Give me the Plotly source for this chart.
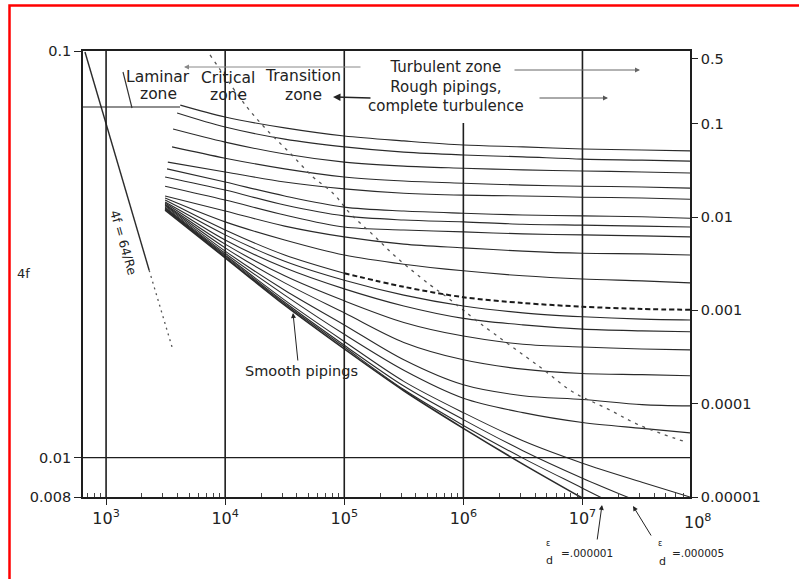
import math
import plotly.graph_objects as go

# ---------------- data ----------------
RE_GRID = [1e4, 3.16e4, 1e5, 3.16e5, 1e6, 3.16e6, 1e7, 3.16e7, 8e7]

ED_LABELS = ["0.05", "0.04", "0.03", "0.02", "0.015", "0.01", "0.008", "0.006",
             "0.004", "0.002", "0.001", "0.0008", "0.0006", "0.0004", "0.0002",
             "0.0001", "0.00005", "0.00001", "0.000005", "0.000001", "smooth"]
START_RE = [4200, 3950, 3650, 3580, 3300, 3250, 3130, 3130, 3130, 3130, 3130,
            3130, 3130, 3130, 3130, 3130, 3130, 3130, 3130, 3130, 3130]

F_0_05 = [0.0736, 0.0688, 0.0647, 0.0618, 0.0601, 0.0587, 0.0581, 0.0574, 0.0571, 0.0568]
F_0_04 = [0.0704, 0.0650, 0.0607, 0.0581, 0.0564, 0.0555, 0.0549, 0.0542, 0.0539, 0.0536]
F_0_03 = [0.0643, 0.0597, 0.0558, 0.0533, 0.0521, 0.0515, 0.0510, 0.0507, 0.0504, 0.0501]
F_0_02 = [0.0581, 0.0545, 0.0513, 0.0490, 0.0479, 0.0473, 0.0468, 0.0465, 0.0463, 0.0460]
F_0_015 = [0.0533, 0.0504, 0.0476, 0.0458, 0.0447, 0.0442, 0.0440, 0.0437, 0.0435, 0.0432]
F_0_01 = [0.0513, 0.0476, 0.0440, 0.0413, 0.0404, 0.0399, 0.0395, 0.0393, 0.0391, 0.0388]
F_0_008 = [0.0490, 0.0455, 0.0418, 0.0393, 0.0384, 0.0380, 0.0375, 0.0373, 0.0371, 0.0369]
F_0_006 = [0.0465, 0.0430, 0.0395, 0.0369, 0.0363, 0.0359, 0.0355, 0.0353, 0.0351, 0.0349]
F_0_004 = [0.0440, 0.0404, 0.0371, 0.0349, 0.0335, 0.0328, 0.0322, 0.0318, 0.0317, 0.0315]
F_0_002 = [0.0435, 0.0380, 0.0343, 0.0315, 0.0299, 0.0288, 0.0280, 0.0275, 0.0272, 0.0269]
F_0_001 = [0.0430, 0.0363, 0.0315, 0.0284, 0.0263, 0.0248, 0.0240, 0.0235, 0.0232, 0.0231]
F_0_0008 = [0.0425, 0.0353, 0.0304, 0.0273, 0.0251, 0.0236, 0.0227, 0.0222, 0.0219, 0.0218]
F_0_0006 = [0.0423, 0.0343, 0.0293, 0.0260, 0.0236, 0.0220, 0.0212, 0.0207, 0.0205, 0.0204]
F_0_0004 = [0.0420, 0.0335, 0.0280, 0.0243, 0.0215, 0.0199, 0.0190, 0.0187, 0.0185, 0.0184]
F_0_0002 = [0.0418, 0.0328, 0.0269, 0.0227, 0.0192, 0.0174, 0.0165, 0.0161, 0.0160, 0.0159]
F_0_0001 = [0.0416, 0.0322, 0.0258, 0.0212, 0.0174, 0.0151, 0.0142, 0.0139, 0.0135, 0.0134]
F_0_00005 = [0.0413, 0.0318, 0.0251, 0.0201, 0.0164, 0.0140, 0.0129, 0.0122, 0.0118, 0.0115]
F_0_00001 = [0.0411, 0.0315, 0.0244, 0.0193, 0.0154, 0.0129, 0.0110, 0.00969, 0.00870, 0.00800]
F_0_000005 = [0.0409, 0.0313, 0.0241, 0.0189, 0.0150, 0.0124, 0.0104, 0.00890, 0.00773]
F_0_000001 = [0.0409, 0.0311, 0.0239, 0.0187, 0.0147, 0.0120, 0.00997, 0.00841, 0.00710]
F_SMOOTH = [0.0406, 0.0310, 0.0237, 0.0185, 0.0146, 0.0118, 0.00964, 0.00795]

CURVES = [F_0_05, F_0_04, F_0_03, F_0_02, F_0_015, F_0_01, F_0_008, F_0_006,
          F_0_004, F_0_002, F_0_001, F_0_0008, F_0_0006, F_0_0004, F_0_0002,
          F_0_0001, F_0_00005, F_0_00001, F_0_000005, F_0_000001, F_SMOOTH]

LAMINAR_RE = [665, 2300]
LAMINAR_F = [0.0994, 0.0289]
LAMINAR_DOT_RE = [2300, 3580]
LAMINAR_DOT_F = [0.0289, 0.0187]

BOUNDARY_RE = [7460, 15250, 22450, 35030, 54640, 80430, 111700, 174300, 277300,
               524700, 729000, 1.38e6, 4.40e6, 8.33e6, 1.61e7, 3.04e7, 7.55e7]
BOUNDARY_F = [0.0978, 0.0728, 0.0639, 0.0561, 0.0490, 0.0447, 0.0399, 0.0353, 0.0310,
              0.0266, 0.0248, 0.0214, 0.0167, 0.0145, 0.0132, 0.0120, 0.0109]

X_TICKS = [1e3, 1e4, 1e5, 1e6, 1e7]
X_TICKTEXT = ["10<sup>3</sup>", "10<sup>4</sup>", "10<sup>5</sup>", "10<sup>6</sup>", "10<sup>7</sup>"]
LEFT_TICKS = [0.1, 0.01, 0.008]
LEFT_TICKTEXT = ["0.1", "0.01", "0.008"]
RIGHT_TICKS = [0.5, 0.1, 0.01, 0.001, 0.0001, 0.00001]
RIGHT_TICKTEXT = ["0.5", "0.1", "0.01", "0.001", "0.0001", "0.00001"]

# ---------------- layout geometry ----------------
W, H = 799, 579
L, R, T, B = 83, 109, 51, 82
PW, PH = W - L - R, H - T - B


def px(X):
    return (X - L) / PW


def py(Y):
    return (H - B - Y) / PH


FONT = "DejaVu Sans"
INK = "#222222"
LINE = "#2a2a2a"

fig = go.Figure()

for i, fv in enumerate(CURVES):
    xs = [START_RE[i]] + RE_GRID[:len(fv) - 1]
    w = 1.6 if ED_LABELS[i] == "smooth" else 1.1
    if ED_LABELS[i] == "0.001":
        fig.add_trace(go.Scatter(x=xs[:4], y=fv[:4], mode="lines",
                                 line=dict(color=LINE, width=w, shape="spline", smoothing=0.9),
                                 hoverinfo="skip", showlegend=False))
        fig.add_trace(go.Scatter(x=xs[3:], y=fv[3:], mode="lines",
                                 line=dict(color="#1a1a1a", width=2.0, dash="5px,3px",
                                           shape="spline", smoothing=0.9),
                                 hoverinfo="skip", showlegend=False))
    else:
        fig.add_trace(go.Scatter(x=xs, y=fv, mode="lines", name="e/d = " + ED_LABELS[i],
                                 line=dict(color=LINE, width=w, shape="spline", smoothing=0.9),
                                 hoverinfo="skip", showlegend=False))

fig.add_trace(go.Scatter(x=LAMINAR_RE, y=LAMINAR_F, mode="lines",
                         line=dict(color=LINE, width=1.4), hoverinfo="skip", showlegend=False))
fig.add_trace(go.Scatter(x=LAMINAR_DOT_RE, y=LAMINAR_DOT_F, mode="lines",
                         line=dict(color="#555", width=1.3, dash="2px,4px"),
                         hoverinfo="skip", showlegend=False))
fig.add_trace(go.Scatter(x=BOUNDARY_RE, y=BOUNDARY_F, mode="lines",
                         line=dict(color="#555", width=1.3, dash="3px,5px", shape="spline"),
                         hoverinfo="skip", showlegend=False))
# invisible trace so that the right-hand roughness axis is drawn
fig.add_trace(go.Scatter(x=X_TICKS[:1], y=RIGHT_TICKS[:1], yaxis="y2", mode="markers",
                         marker=dict(opacity=0), hoverinfo="skip", showlegend=False))

# ---------------- shapes ----------------
shapes = []
for xv in [1e3, 1e4, 1e5, 1e7]:
    shapes.append(dict(type="line", xref="x", yref="paper", x0=xv, x1=xv, y0=0, y1=1,
                       line=dict(color="#1e1e1e", width=1.6)))
shapes.append(dict(type="line", xref="x", yref="paper", x0=1e6, x1=1e6, y0=0, y1=py(123),
                   line=dict(color="#1e1e1e", width=1.6)))
shapes.append(dict(type="line", xref="paper", yref="y", x0=0, x1=1, y0=0.01, y1=0.01,
                   line=dict(color="#1e1e1e", width=1.2)))
shapes.append(dict(type="line", xref="paper", yref="paper", x0=0, x1=px(180),
                   y0=py(107), y1=py(107), line=dict(color="#1e1e1e", width=1.2)))
shapes.append(dict(type="line", xref="paper", yref="paper", x0=px(123), x1=px(132),
                   y0=py(72), y1=py(108), line=dict(color="#333", width=1.1)))
# red frame around the picture
shapes.append(dict(type="rect", xref="paper", yref="paper", x0=px(9.5), x1=px(830),
                   y0=py(620), y1=py(5.5), line=dict(color="#ff0000", width=2.5)))

# ---------------- annotations ----------------
ann = []


def text(X, Y, s, size, angle=0, xanchor="center"):
    ann.append(dict(xref="paper", yref="paper", x=px(X), y=py(Y), text=s, showarrow=False,
                    xanchor=xanchor, yanchor="middle", textangle=angle,
                    font=dict(family=FONT, size=size, color=INK)))


def arrow(tipX, tipY, tailX, tailY, color="#222", width=1.2, head=2, size=1.0):
    ann.append(dict(xref="paper", yref="paper", x=px(tipX), y=py(tipY), text="",
                    showarrow=True, ax=tailX - tipX, ay=tailY - tipY,
                    arrowhead=head, arrowsize=size, arrowwidth=width, arrowcolor=color))


ZS = 15.5
text(158, 77, "Laminar", ZS)
text(158, 94, "zone", ZS)
text(228, 78, "Critical", ZS)
text(228, 95, "zone", ZS)
text(303, 76, "Transition", ZS)
text(303, 95, "zone", ZS)
text(446, 86, "Turbulent zone<br>Rough pipings,<br>complete turbulence", 15)
text(124, 242, "4f = 64/Re", 12.5, angle=74)
text(23, 273, "4f", 13)
text(697, 521, "10<sup>8</sup>", 16)
text(301, 371, "Smooth pipings", 14.5)

text(548, 543, "ε", 8)
text(549, 560, "d", 11)
text(587, 553, "=.000001", 10.5)
text(660, 543, "ε", 8)
text(662, 561, "d", 11)
text(698, 553, "=.000005", 10.5)

arrow(184, 67, 362, 67, color="#888", width=1.0)
arrow(333, 97, 372, 98, width=1.5)
arrow(640, 70, 513, 70, color="#666", width=1.0)
arrow(608, 98, 538, 98, color="#555", width=1.0)
arrow(293, 313, 298, 362, width=1.0)
arrow(602, 505, 597, 541, width=1.0)
arrow(633, 506, 652, 537, width=1.0)

minor_vals = [m * 10 ** e for e in range(2, 8) for m in range(2, 10)
              if 640 < m * 10 ** e < 8e7]

fig.update_layout(
    width=W, height=H, autosize=False,
    margin=dict(l=L, r=R, t=T, b=B, pad=0),
    paper_bgcolor="white", plot_bgcolor="white",
    font=dict(family=FONT, color=INK),
    showlegend=False,
    xaxis=dict(type="log", range=[math.log10(640), math.log10(8e7)],
               tickmode="array", tickvals=X_TICKS, ticktext=X_TICKTEXT,
               ticks="outside", ticklen=6, tickwidth=1.4, tickcolor="#222",
               tickfont=dict(family=FONT, size=16, color=INK),
               showline=True, linecolor="#1e1e1e", linewidth=1.6, mirror=True,
               showgrid=False, zeroline=False,
               minor=dict(ticks="inside", ticklen=4, tickcolor="#444", tickwidth=1,
                          tickmode="array", tickvals=minor_vals, showgrid=False)),
    yaxis=dict(type="log", range=[math.log10(0.008), -1],
               tickmode="array", tickvals=LEFT_TICKS, ticktext=LEFT_TICKTEXT,
               ticks="outside", ticklen=7, tickwidth=1.2, tickcolor="#222",
               tickfont=dict(family=FONT, size=14.5, color=INK),
               showline=True, linecolor="#1e1e1e", linewidth=1.6,
               showgrid=False, zeroline=False),
    yaxis2=dict(type="log", range=[-5, -0.22], overlaying="y", side="right",
                anchor="x", tickmode="array", tickvals=RIGHT_TICKS, ticktext=RIGHT_TICKTEXT,
                ticks="outside", ticklen=6, tickwidth=1.2, tickcolor="#222",
                tickfont=dict(family=FONT, size=14.5, color=INK),
                showline=True, linecolor="#1e1e1e", linewidth=1.6,
                showgrid=False, zeroline=False),
    shapes=shapes,
    annotations=ann,
)

fig.write_html("out.html", config={"displayModeBar": False},
               post_script="document.body.style.margin='0px';")
